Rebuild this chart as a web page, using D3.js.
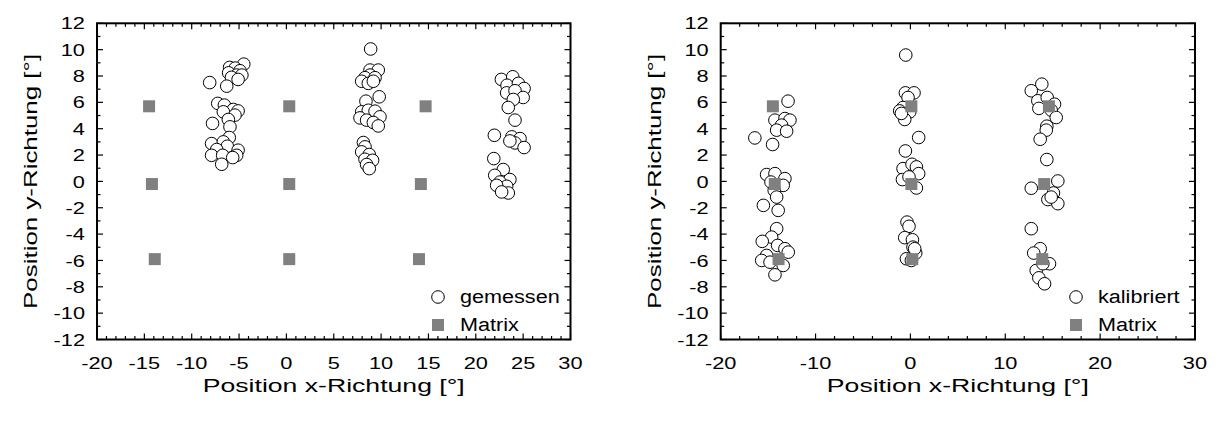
<!DOCTYPE html>
<html>
<head>
<meta charset="utf-8">
<script src="https://cdn.jsdelivr.net/npm/d3@7"></script>
<style>
  body { margin: 0; background: #fff; }
  text { font-family: "Liberation Sans", Arial, sans-serif; fill: #000; }
</style>
</head>
<body>
<svg id="chart" width="1219" height="426"></svg>
<script>
// matrix positions (same grid in both panels)
const matrixLeft = [[-14.5,5.7],[-14.2,-0.2],[-13.9,-5.9],[0.3,5.7],[0.3,-0.2],[0.3,-5.9],[14.7,5.7],[14.2,-0.2],[14.0,-5.9]];
const matrixRight = [[-14.5,5.7],[-14.3,-0.2],[-13.9,-5.9],[0.1,5.7],[0.1,-0.2],[0.2,-5.9],[14.6,5.7],[14.1,-0.2],[13.9,-5.9]];

// measured points (left panel)
const gemessen = [
  [-4.5,8.9],[-6.0,8.65],[-5.4,8.6],[-4.9,8.4],[-6.1,8.24],[-5.25,8.07],[-4.7,8.07],[-5.8,7.9],[-5.1,7.74],[-6.3,7.23],[-8.1,7.5],
  [-7.25,5.92],[-6.55,5.79],[-5.6,5.46],[-5.1,5.35],[-6.66,5.28],[-5.43,5.03],[-6.13,4.7],[-7.8,4.4],[-5.96,4.14],[-6.03,3.33],
  [-7.9,2.87],[-6.66,3.0],[-6.24,2.67],[-5.1,2.37],[-7.36,2.42],[-5.25,1.98],[-7.9,1.98],[-6.73,1.98],[-5.67,1.81],[-6.83,1.3],
  [8.9,10.05],[8.83,8.45],[9.7,8.45],[8.83,8.07],[8.3,7.87],[9.36,7.87],[7.95,7.6],[8.65,7.44],[9.18,7.6],
  [9.8,6.42],[8.4,6.09],[7.95,5.28],[8.65,5.4],[9.36,5.33],[9.88,4.9],[7.77,4.82],[8.47,4.65],[9.18,4.47],[9.7,4.21],
  [8.13,2.95],[8.3,2.62],[7.95,2.24],[8.75,2.04],[8.3,1.68],[9.1,1.6],[8.47,1.28],[8.75,0.97],
  [22.7,7.74],[23.9,7.94],[23.3,7.3],[24.5,7.44],[25.1,7.05],[23.26,6.72],[24.14,6.88],[25.0,6.37],[23.96,6.22],[23.43,5.61],[24.14,4.65],
  [21.96,3.5],[23.8,3.38],[24.67,3.25],[24.14,2.92],[25.1,2.57],[23.6,3.07],
  [21.9,1.73],[22.9,0.9],[22.0,0.46],[23.6,0.14],[22.55,-0.05],[23.26,-0.37],[22.2,-0.3],[23.43,-0.88],[22.73,-0.8]
];

// calibrated points (right panel)
const kalibriert = [
  [-12.9,6.09],[-14.28,4.65],[-13.23,4.77],[-12.7,4.65],[-13.58,4.27],[-14.1,3.89],[-13.05,3.81],[-16.4,3.3],[-14.53,2.8],
  [-15.16,0.52],[-14.28,0.59],[-13.23,0.21],[-14.7,-0.05],[-13.41,-0.3],[-14.36,-0.68],[-14.1,-1.19],[-15.5,-1.82],[-13.94,-2.2],
  [-14.1,-3.59],[-14.63,-4.23],[-15.62,-4.55],[-14.0,-4.86],[-13.23,-5.11],[-12.88,-5.37],[-15.16,-5.62],[-15.68,-6.0],[-13.41,-6.38],[-14.28,-7.09],[-14.8,-6.13],
  [-0.49,9.59],[-0.53,6.72],[0.38,6.72],[-0.25,6.37],[-0.78,5.61],[-1.13,5.35],[-0.07,5.28],[-0.6,4.7],[-0.95,5.16],
  [0.87,3.33],[-0.53,2.31],[-0.78,0.97],[0.17,1.3],[0.63,1.1],[0.87,0.59],[-0.84,0.14],[0.63,-0.5],[-0.15,0.34],
  [-0.36,-3.09],[-0.15,-3.41],[-0.6,-4.27],[0.21,-4.43],[0.27,-4.99],[0.56,-5.44],[-0.42,-5.87],[0.1,-6.0],[0.45,-5.11],
  [13.85,7.38],[12.74,6.88],[13.43,6.12],[14.42,6.37],[13.54,5.54],[15.19,5.86],[14.84,5.41],[15.37,4.85],[14.38,4.19],[14.32,3.89],[13.68,3.2],
  [14.38,1.66],[12.74,-0.52],[15.54,0.03],[15.08,-0.88],[14.49,-1.38],[15.54,-1.69],[14.84,-1.19],
  [12.74,-3.59],[13.68,-5.11],[13.0,-5.44],[14.66,-6.25],[13.26,-6.76],[13.54,-7.32],[14.14,-7.77],[13.96,-6.25]
];

const xTicksLeft = [-20,-15,-10,-5,0,5,10,15,20,25,30];
const xTicksRight = [-20,-10,0,10,20,30];
const yTicks = [-12,-10,-8,-6,-4,-2,0,2,4,6,8,10,12];

const svg = d3.select("#chart");

// the reference text is wider than plain Arial
function widen(sel, f) {
  sel.each(function() {
    const w = this.getComputedTextLength();
    d3.select(this).attr("textLength", w * f).attr("lengthAdjust", "spacingAndGlyphs");
  });
}

function drawPanel(p) {
  const x = d3.scaleLinear().domain([-20, 30]).range([p.left, p.right]);
  const y = d3.scaleLinear().domain([-12, 12]).range([p.bottom, p.top]);
  const g = svg.append("g");

  // ticks on all four sides, pointing inward
  const xMinor = d3.range(-20, 30.001, p.xMinorStep);
  const yMinor = d3.range(-12, 12.001, 1);
  const tickG = g.append("g").attr("stroke", "#000").attr("stroke-width", 1.2);
  xMinor.forEach(v => {
    const len = p.xTicks.includes(v) ? 6 : 3.5;
    tickG.append("line").attr("x1", x(v)).attr("x2", x(v)).attr("y1", p.bottom).attr("y2", p.bottom - len);
    tickG.append("line").attr("x1", x(v)).attr("x2", x(v)).attr("y1", p.top).attr("y2", p.top + len);
  });
  yMinor.forEach(v => {
    const len = yTicks.includes(v) ? 6 : 3.5;
    tickG.append("line").attr("y1", y(v)).attr("y2", y(v)).attr("x1", p.left).attr("x2", p.left + len);
    tickG.append("line").attr("y1", y(v)).attr("y2", y(v)).attr("x1", p.right).attr("x2", p.right - len);
  });

  g.append("rect")
    .attr("x", p.left).attr("y", p.top)
    .attr("width", p.right - p.left).attr("height", p.bottom - p.top)
    .attr("fill", "none").attr("stroke", "#000").attr("stroke-width", 2);

  g.selectAll(".xl").data(p.xTicks).join("text")
    .attr("x", d => x(d)).attr("y", p.bottom + 29)
    .attr("text-anchor", "middle").style("font-size", "17px")
    .text(d => d).call(widen, 1.28);
  g.selectAll(".yl").data(yTicks).join("text")
    .attr("x", p.left - 12).attr("y", d => y(d)).attr("dy", "0.36em")
    .attr("text-anchor", "end").style("font-size", "17px")
    .text(d => d).call(widen, 1.28);

  g.append("text")
    .attr("x", (p.left + p.right) / 2).attr("y", 392)
    .attr("text-anchor", "middle").style("font-size", "18px")
    .attr("textLength", 262).attr("lengthAdjust", "spacingAndGlyphs")
    .text("Position x-Richtung [°]");
  g.append("text")
    .attr("transform", `translate(${p.left - 60},${(p.top + p.bottom) / 2}) rotate(-90)`)
    .attr("text-anchor", "middle").style("font-size", "18px")
    .attr("textLength", 255).attr("lengthAdjust", "spacingAndGlyphs")
    .text("Position y-Richtung [°]");

  const drawSquares = sel => sel.selectAll("rect.m").data(p.matrix).join("rect")
    .attr("class", "m")
    .attr("x", d => x(d[0]) - 6).attr("y", d => y(d[1]) - 6)
    .attr("width", 12).attr("height", 12).attr("fill", "#808080");

  if (p.squaresOnTop) {
    drawCircles(g, p.points, x, y);
    drawSquares(g.append("g"));
  } else {
    drawSquares(g.append("g"));
    drawCircles(g, p.points, x, y);
  }

  // legend
  const lg = g.append("g");
  lg.append("circle").attr("cx", p.legX).attr("cy", 297).attr("r", 6.3)
    .attr("fill", "#fff").attr("stroke", "#000").attr("stroke-width", 1);
  lg.append("rect").attr("x", p.legX - 6).attr("y", 319).attr("width", 12).attr("height", 12).attr("fill", "#808080");
  lg.append("text").attr("x", p.legX + 22).attr("y", 297).attr("dy", "0.36em").style("font-size", "18px")
    .text(p.label).call(widen, 1.2);
  lg.append("text").attr("x", p.legX + 22).attr("y", 325).attr("dy", "0.36em").style("font-size", "18px")
    .text("Matrix").call(widen, 1.2);
}

function drawCircles(g, pts, x, y) {
  g.append("g").selectAll("circle").data(pts).join("circle")
    .attr("cx", d => x(d[0])).attr("cy", d => y(d[1])).attr("r", 6.3)
    .attr("fill", "#fff").attr("stroke", "#000").attr("stroke-width", 1);
}

drawPanel({left: 97, right: 570.5, top: 23.3, bottom: 339.5, xTicks: xTicksLeft, xMinorStep: 1,
  matrix: matrixLeft, points: gemessen, label: "gemessen", legX: 438, squaresOnTop: false});
drawPanel({left: 720.7, right: 1195, top: 23.3, bottom: 339.5, xTicks: xTicksRight, xMinorStep: 2,
  matrix: matrixRight, points: kalibriert, label: "kalibriert", legX: 1076, squaresOnTop: true});
</script>
</body>
</html>
